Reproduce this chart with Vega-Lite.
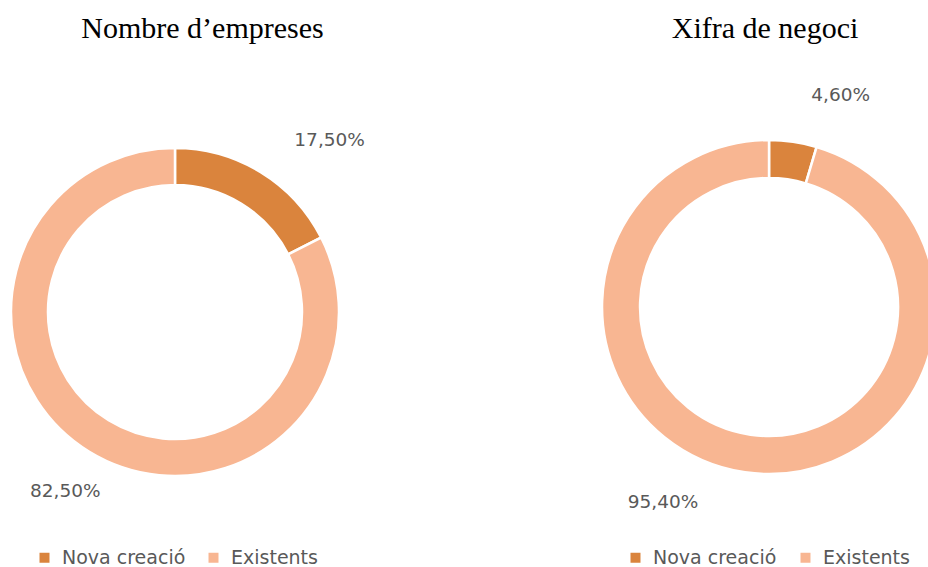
{
  "$schema": "https://vega.github.io/schema/vega-lite/v6.json",
  "width": 928,
  "height": 567,
  "padding": 0,
  "autosize": "none",
  "background": "white",
  "config": {
    "view": {"stroke": null},
    "locale": {"number": {"decimal": ",", "thousands": ".", "grouping": [3], "currency": ["", " €"]}}
  },
  "data": {
    "values": [
      {"chart": "Nombre d’empreses", "cat": "Nova creació", "share": 0.175},
      {"chart": "Nombre d’empreses", "cat": "Existents", "share": 0.825},
      {"chart": "Xifra de negoci", "cat": "Nova creació", "share": 0.046},
      {"chart": "Xifra de negoci", "cat": "Existents", "share": 0.954}
    ]
  },
  "resolve": {"scale": {"color": "independent"}},
  "layer": [
    {
      "transform": [{"filter": "datum.chart === 'Nombre d’empreses'"}],
      "encoding": {
        "x": {"field": "chart", "type": "nominal", "axis": null,
              "scale": {"type": "point", "domain": ["Nombre d’empreses", "Xifra de negoci"], "padding": 0.2811, "align": 0.524}}
      },
      "layer": [
        {
          "mark": {"type": "arc", "radius": 164, "radius2": 127, "stroke": "white", "strokeWidth": 2.5, "yOffset": 28.5},
          "encoding": {
            "theta": {"field": "share", "type": "quantitative", "stack": true, "scale": {"domain": [0, 1]}},
            "order": {"field": "cat", "sort": "descending"},
            "color": {"field": "cat", "type": "nominal",
                      "scale": {"domain": ["Nova creació", "Existents"], "range": ["#DA843D", "#F8B692"]},
                      "legend": {"orient": "none", "legendX": 35, "legendY": 548, "direction": "horizontal", "title": null,
                                 "symbolType": "square", "symbolSize": 100, "symbolStrokeWidth": 0,
                                 "labelFont": "DejaVu Sans", "labelFontSize": 19, "labelColor": "#595959",
                                 "labelOffset": 8, "columnPadding": 18, "padding": 0}}
          }
        },
        {
          "mark": {"type": "text", "radius": 227, "dx": 36, "dy": 22, "yOffset": 28.5, "font": "DejaVu Sans", "fontSize": 18.5, "fill": "#595959", "align": "center", "baseline": "middle"},
          "encoding": {
            "theta": {"field": "share", "type": "quantitative", "stack": true, "scale": {"domain": [0, 1]}},
            "order": {"field": "cat", "sort": "descending"},
            "detail": {"field": "cat"},
            "text": {"condition": {"test": "datum.cat === 'Nova creació'", "field": "share", "type": "quantitative", "format": ".2%"}, "value": ""}
          }
        },
        {
          "mark": {"type": "text", "radius": 210, "yOffset": 28.5, "font": "DejaVu Sans", "fontSize": 18.5, "fill": "#595959", "align": "center", "baseline": "middle"},
          "encoding": {
            "theta": {"field": "share", "type": "quantitative", "stack": true, "scale": {"domain": [0, 1]}},
            "order": {"field": "cat", "sort": "descending"},
            "detail": {"field": "cat"},
            "text": {"condition": {"test": "datum.cat === 'Existents'", "field": "share", "type": "quantitative", "format": ".2%"}, "value": ""}
          }
        },
        {
          "transform": [{"filter": "datum.cat === 'Nova creació'"}],
          "mark": {"type": "text", "font": "Liberation Serif", "fontSize": 30, "fill": "#000000", "align": "center", "baseline": "alphabetic", "dx": 27.5, "dy": -245.5},
          "encoding": {"text": {"field": "chart"}}
        }
      ]
    },
    {
      "transform": [{"filter": "datum.chart === 'Xifra de negoci'"}],
      "encoding": {
        "x": {"field": "chart", "type": "nominal", "axis": null,
              "scale": {"type": "point", "domain": ["Nombre d’empreses", "Xifra de negoci"], "padding": 0.2811, "align": 0.524}}
      },
      "layer": [
        {
          "mark": {"type": "arc", "radius": 167, "radius2": 129, "stroke": "white", "strokeWidth": 2.5, "yOffset": 23.5},
          "encoding": {
            "theta": {"field": "share", "type": "quantitative", "stack": true, "scale": {"domain": [0, 1]}},
            "order": {"field": "cat", "sort": "descending"},
            "color": {"field": "cat", "type": "nominal",
                      "scale": {"domain": ["Nova creació", "Existents"], "range": ["#DA843D", "#F8B692"]},
                      "legend": {"orient": "none", "legendX": 626, "legendY": 548, "direction": "horizontal", "title": null,
                                 "symbolType": "square", "symbolSize": 100, "symbolStrokeWidth": 0,
                                 "labelFont": "DejaVu Sans", "labelFontSize": 19, "labelColor": "#595959",
                                 "labelOffset": 8, "columnPadding": 19, "padding": 0}}
          }
        },
        {
          "mark": {"type": "text", "radius": 220, "dx": 40, "dy": 6, "yOffset": 23.5, "font": "DejaVu Sans", "fontSize": 18.5, "fill": "#595959", "align": "center", "baseline": "middle"},
          "encoding": {
            "theta": {"field": "share", "type": "quantitative", "stack": true, "scale": {"domain": [0, 1]}},
            "order": {"field": "cat", "sort": "descending"},
            "detail": {"field": "cat"},
            "text": {"condition": {"test": "datum.cat === 'Nova creació'", "field": "share", "type": "quantitative", "format": ".2%"}, "value": ""}
          }
        },
        {
          "mark": {"type": "text", "radius": 208, "dx": -76, "dy": -11, "yOffset": 23.5, "font": "DejaVu Sans", "fontSize": 18.5, "fill": "#595959", "align": "center", "baseline": "middle"},
          "encoding": {
            "theta": {"field": "share", "type": "quantitative", "stack": true, "scale": {"domain": [0, 1]}},
            "order": {"field": "cat", "sort": "descending"},
            "detail": {"field": "cat"},
            "text": {"condition": {"test": "datum.cat === 'Existents'", "field": "share", "type": "quantitative", "format": ".2%"}, "value": ""}
          }
        },
        {
          "transform": [{"filter": "datum.cat === 'Nova creació'"}],
          "mark": {"type": "text", "font": "Liberation Serif", "fontSize": 30, "fill": "#000000", "align": "center", "baseline": "alphabetic", "dx": -4, "dy": -245.5},
          "encoding": {"text": {"field": "chart"}}
        }
      ]
    }
  ]
}
